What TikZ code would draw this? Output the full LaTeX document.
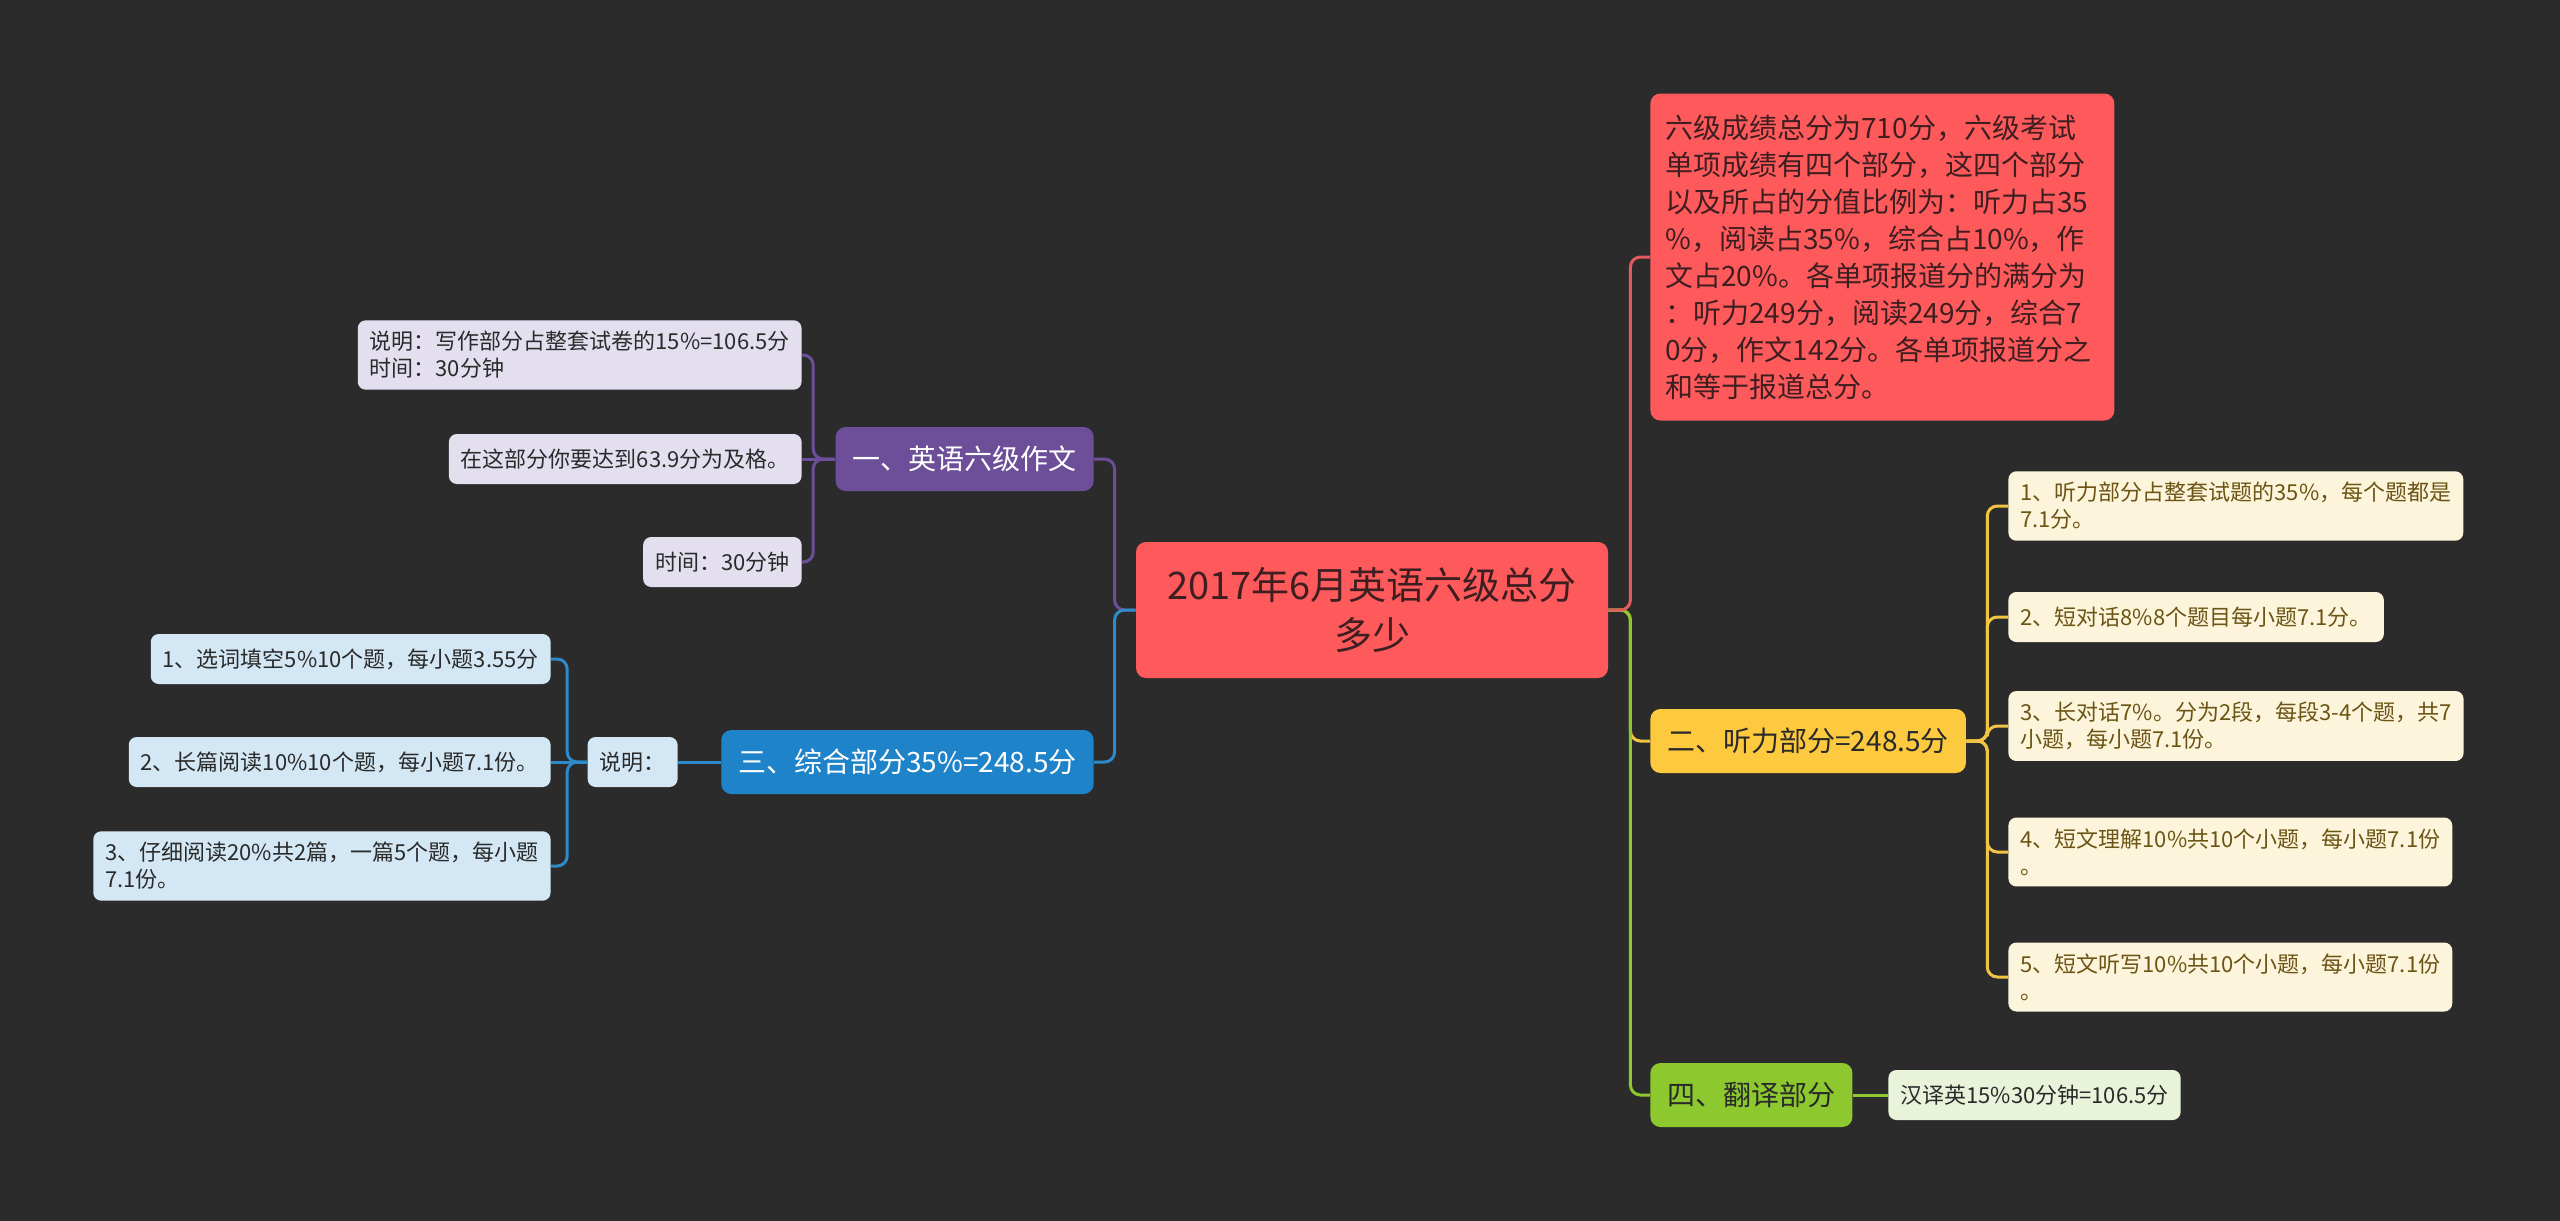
\documentclass[tikz,border=0pt]{standalone}
\usepackage{fontspec}
\setmainfont{Noto Sans CJK SC}
\usepackage{xcolor}
\usepackage{tikz}
\definecolor{bgdark}{HTML}{2B2B2B}
\definecolor{rootred}{HTML}{FE5A5C}
\definecolor{redline}{HTML}{E35B5E}
\definecolor{rootink}{HTML}{3E1E20}
\definecolor{purp}{HTML}{6C4F98}
\definecolor{purpleaf}{HTML}{E3DFEE}
\definecolor{blu}{HTML}{1E83C9}
\definecolor{bluline}{HTML}{2D8ACB}
\definecolor{bluleaf}{HTML}{D3E7F4}
\definecolor{yel}{HTML}{FDC93E}
\definecolor{yelline}{HTML}{F2C443}
\definecolor{yelleaf}{HTML}{FDF5DB}
\definecolor{yelink}{HTML}{6B5414}
\definecolor{grn}{HTML}{8DC92E}
\definecolor{grnleaf}{HTML}{E8F3DA}
\definecolor{darkink}{HTML}{2A2A2A}

\begin{document}
\begin{tikzpicture}[x=0.5pt,y=-0.5pt,
    root/.style={fill=rootred, text=rootink, rounded corners=5pt, font=\fontsize{19}{25}\selectfont,
      align=center, minimum width=236pt, minimum height=68pt},
    branch/.style={rounded corners=5pt, font=\fontsize{14}{18.5}\selectfont, minimum height=32pt, inner xsep=8.5pt},
    leaf/.style={rounded corners=4pt, font=\fontsize{11}{13.5}\selectfont, align=left, text=darkink,
      minimum height=25pt, inner xsep=6pt, inner ysep=5.5pt},
    link/.style={line width=1.5pt, rounded corners=5pt}]
    \fill[bgdark] (0,0) rectangle (2560,1221);
    \useasboundingbox (0,0) rectangle (2560,1221);

    \node [root] (root) at (1372,610) {2017年6月英语六级总分\\多少};

    \node [branch, fill=purp, text=white, anchor=east] (essay) at (1094,459) {一、英语六级作文};
    \node [branch, fill=blu, text=white, anchor=east] (mixed) at (1094,762) {三、综合部分35\%=248.5分};
    \node [fill=rootred, text=rootink, rounded corners=5pt, font=\fontsize{14}{18.5}\selectfont,
      text width=217pt, align=left, inner xsep=7.5pt, minimum height=163.5pt, anchor=west] (total) at (1650,257)
      {六级成绩总分为710分，六级考试\\单项成绩有四个部分，这四个部分\\以及所占的分值比例为：听力占35\\\%，阅读占35\%，综合占10\%，作\\文占20\%。各单项报道分的满分为\\：听力249分，阅读249分，综合7\\0分，作文142分。各单项报道分之\\和等于报道总分。};
    \node [branch, fill=yel, text=darkink, anchor=west] (listen) at (1650,741) {二、听力部分=248.5分};
    \node [branch, fill=grn, text=darkink, anchor=west] (trans) at (1650,1095) {四、翻译部分};

    \node [leaf, fill=purpleaf, anchor=east] (essay1) at (802,355) {说明：写作部分占整套试卷的15\%=106.5分\\时间：30分钟};
    \node [leaf, fill=purpleaf, anchor=east] (essay2) at (802,459) {在这部分你要达到63.9分为及格。};
    \node [leaf, fill=purpleaf, anchor=east] (essay3) at (802,562) {时间：30分钟};

    \node [leaf, fill=bluleaf, anchor=east] (note) at (678,762) {说明：};
    \node [leaf, fill=bluleaf, anchor=east] (mixed1) at (551,659) {1、选词填空5\%10个题，每小题3.55分};
    \node [leaf, fill=bluleaf, anchor=east] (mixed2) at (551,762) {2、长篇阅读10\%10个题，每小题7.1份。};
    \node [leaf, fill=bluleaf, anchor=east] (mixed3) at (551,866) {3、仔细阅读20\%共2篇，一篇5个题，每小题\\7.1份。};

    \node [leaf, fill=yelleaf, text=yelink, anchor=west] (listen1) at (2008,506) {1、听力部分占整套试题的35\%，每个题都是\\7.1分。};
    \node [leaf, fill=yelleaf, text=yelink, anchor=west] (listen2) at (2008,617) {2、短对话8\%8个题目每小题7.1分。};
    \node [leaf, fill=yelleaf, text=yelink, anchor=west] (listen3) at (2008,726) {3、长对话7\%。分为2段，每段3-4个题，共7\\小题，每小题7.1份。};
    \node [leaf, fill=yelleaf, text=yelink, anchor=west] (listen4) at (2008,852) {4、短文理解10\%共10个小题，每小题7.1份\\。};
    \node [leaf, fill=yelleaf, text=yelink, anchor=west] (listen5) at (2008,977) {5、短文听写10\%共10个小题，每小题7.1份\\。};

    \node [leaf, fill=grnleaf, anchor=west] (trans1) at (1888,1095) {汉译英15\%30分钟=106.5分};

    \draw [link, purp] (root.west) -- ++(-21,0) |- (essay.east);
    \draw [link, bluline] (root.west) -- ++(-21,0) |- (mixed.east);
    \draw [link, yelline] (root.east) -- ++(22,0) |- (listen.west);
    \draw [link, grn] (root.east) -- ++(22,0) |- (trans.west);
    \draw [link, redline] (root.east) -- ++(22,0) |- (total.west);

    \foreach \n in {essay1,essay3}
      \draw [link, purp] (essay.west) -- ++(-22,0) |- (\n.east);
    \draw [link, purp] (essay.west) -- (essay2.east);
    \draw [link, bluline] (mixed.west) -- (note.east);
    \foreach \n in {mixed1,mixed3}
      \draw [link, bluline] (note.west) -- ++(-20,0) |- (\n.east);
    \draw [link, bluline] (note.west) -- (mixed2.east);
    \foreach \n in {listen1,listen2,listen3,listen4,listen5}
      \draw [link, yelline] (listen.east) -- ++(21,0) |- (\n.west);
    \draw [link, grn] (trans.east) -- (trans1.west);
\end{tikzpicture}
\end{document}
